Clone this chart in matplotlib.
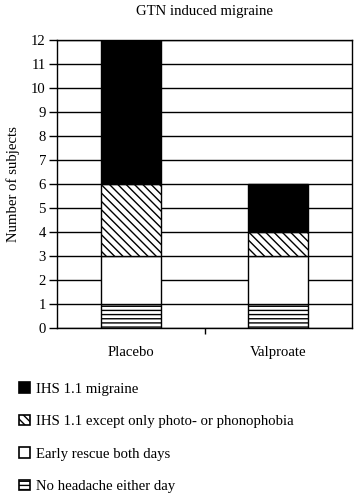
import matplotlib
matplotlib.use("Agg")
import matplotlib.pyplot as plt
from matplotlib.patches import Patch

plt.rcParams['font.family'] = ['Liberation Serif', 'DejaVu Serif']
plt.rcParams['hatch.linewidth'] = 1.0

categories = ["Placebo", "Valproate"]
series_names = ["No headache either day", "Early rescue both days",
                "IHS 1.1 except only photo- or phonophobia", "IHS 1.1 migraine"]
no_headache = [1, 1]
early_rescue = [2, 2]
ihs_except = [3, 1]
ihs_migraine = [6, 2]
yticks = list(range(0, 13))

series = [no_headache, early_rescue, ihs_except, ihs_migraine]
faces = ["white", "white", "white", "black"]
hatches = ["----", None, "\\\\\\\\", None]

FS = 10.6

fig = plt.figure(figsize=(3.57, 5.0), dpi=100)
ax = fig.add_axes([57/357, 1-328/500, (352-57)/357, (328-40)/500])

x = list(range(len(categories)))
bottom = [0]*len(categories)
for vals, fc, h in zip(series, faces, hatches):
    ax.bar(x, vals, width=0.41, bottom=bottom, color=fc, edgecolor="black",
           linewidth=1.0, hatch=h, zorder=3)
    bottom = [b+v for b, v in zip(bottom, vals)]

ax.set_xlim(-0.5, 1.5)
ax.set_ylim(0, 12)
ax.set_yticks(yticks)
ax.set_yticklabels([str(t) for t in yticks], fontsize=FS)
ax.yaxis.grid(True, color="black", linewidth=1.0, zorder=0)
ax.set_axisbelow(True)
ax.set_xticks(x)
ax.set_xticklabels(categories, fontsize=FS)
ax.tick_params(axis='x', length=0, pad=13)
ax.set_xticks([0.5], minor=True)
ax.tick_params(axis='x', which='minor', length=4, direction='out', width=1)
ax.tick_params(axis='y', length=6, direction='out', width=1, pad=2)
for s in ax.spines.values():
    s.set_linewidth(1.0)
    s.set_color("black")
ax.set_ylabel("Number of subjects", fontsize=FS, labelpad=8)
ax.set_title("GTN induced migraine", fontsize=FS, pad=18)

handles = [Patch(facecolor=fc, edgecolor="black", hatch=h, linewidth=1.2)
           for fc, h in zip(faces, hatches)]
handles = handles[::-1]
labels = series_names[::-1]
fig.legend(handles, labels, loc="upper left", bbox_to_anchor=(0.038, 0.247),
           frameon=False, fontsize=FS, handlelength=0.7, handleheight=0.7,
           handletextpad=0.45, labelspacing=1.3, borderaxespad=0)

fig.savefig("out.png", dpi=100)
